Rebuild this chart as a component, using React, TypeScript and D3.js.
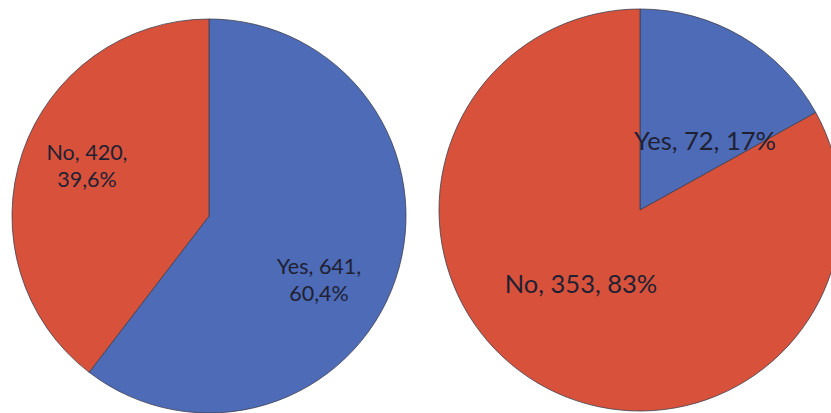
import React from "react";
import * as d3 from "d3";

const categories = ["Yes", "No"];
const leftValues = [641, 420];
const leftPctLabels = ["60,4%", "39,6%"];
const rightValues = [72, 353];
const rightPctLabels = ["17%", "83%"];

const W = 831;
const H = 413;
const colors: Record<string, string> = { Yes: "#4d6bb7", No: "#d8523b" };

type LabelLayout = { dx: number; dy: number; lines: number };

const pies = [
  {
    cx: 209,
    cy: 216,
    r: 197,
    values: leftValues,
    pct: leftPctLabels,
    fontSize: 21.5,
    lineH: 27,
    labels: [
      { dx: 110, dy: 63, lines: 2 },
      { dx: -122, dy: -51, lines: 2 },
    ] as LabelLayout[],
  },
  {
    cx: 640,
    cy: 210,
    r: 201,
    values: rightValues,
    pct: rightPctLabels,
    fontSize: 25.5,
    lineH: 30,
    labels: [
      { dx: 65, dy: -70, lines: 1 },
      { dx: -59, dy: 73, lines: 1 },
    ] as LabelLayout[],
  },
];

function Pie({ p }: { p: (typeof pies)[number] }) {
  const data = categories.map((c, i) => ({ cat: c, value: p.values[i], pct: p.pct[i] }));
  const gen = d3.pie<any>().value((d) => d.value).sort(null);
  const arcs = gen(data);
  const arc = d3.arc<any>().innerRadius(0).outerRadius(p.r);
  const lh = p.lineH;
  return (
    <g transform={`translate(${p.cx},${p.cy})`}>
      {arcs.map((a, i) => (
        <path key={i} d={arc(a) || ""} fill={colors[a.data.cat]} stroke="#3d3f4e" strokeWidth={0.8} />
      ))}
      {arcs.map((a, i) => {
        const L = p.labels[i];
        const first = `${a.data.cat}, ${a.data.value},`;
        const lines = L.lines === 2 ? [first, a.data.pct] : [`${first} ${a.data.pct}`];
        const y0 = L.dy - ((lines.length - 1) * lh) / 2;
        return (
          <text
            key={"t" + i}
            x={L.dx}
            y={y0}
            textAnchor="middle"
            dominantBaseline="central"
            fontFamily="Lato, 'Open Sans', sans-serif"
            fontSize={p.fontSize}
            fill="#1f2133"
          >
            {lines.map((s, j) => (
              <tspan key={j} x={L.dx} y={y0 + j * lh}>
                {s}
              </tspan>
            ))}
          </text>
        );
      })}
    </g>
  );
}

export default function App() {
  return (
    <svg
      width={W}
      height={H}
      style={{ position: "absolute", left: 0, top: 0, background: "#ffffff" }}
    >
      {pies.map((p, i) => (
        <Pie key={i} p={p} />
      ))}
    </svg>
  );
}
